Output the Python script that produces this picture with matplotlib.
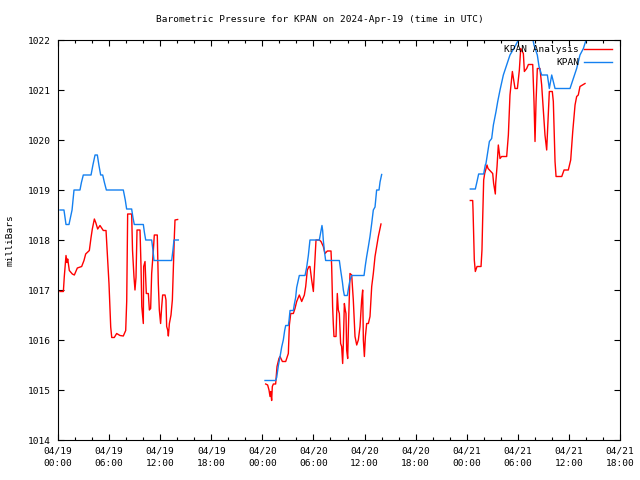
import numpy as np
import pandas as pd
import matplotlib
matplotlib.use('Agg')
import matplotlib.pyplot as plt
import matplotlib.dates as mdates

# hours since 2024-04-19 00:00 UTC, pressure in mb
# KPAN Analysis (red)
ana_h1 = [0.23, 0.63, 0.74, 0.94, 1.06, 1.14, 1.33, 1.68, 1.92, 2.27, 2.78, 3.05, 3.25, 3.68,
          3.88, 4.03, 4.27, 4.43, 4.66, 4.93, 5.32, 5.64, 5.99, 6.19, 6.31, 6.61, 6.89, 7.28,
          7.67, 7.95, 8.07, 8.18, 8.65, 8.75, 8.92, 9.04, 9.16, 9.28, 9.63, 9.75, 9.84, 10.02,
          10.06, 10.22, 10.37, 10.61, 10.73, 10.88, 11.00, 11.20, 11.31, 11.66, 11.78, 11.90,
          12.05, 12.17, 12.29, 12.57, 12.68, 12.76, 12.88, 12.96, 13.08, 13.27, 13.43, 13.55,
          13.67, 13.74, 14.05]
ana_p1 = [1016.97, 1016.97, 1017.27, 1017.69, 1017.55, 1017.62, 1017.39, 1017.32, 1017.30,
          1017.44, 1017.47, 1017.59, 1017.72, 1017.79, 1018.05, 1018.22, 1018.42, 1018.35,
          1018.22, 1018.29, 1018.19, 1018.19, 1017.12, 1016.26, 1016.05, 1016.05, 1016.13,
          1016.09, 1016.08, 1016.19, 1016.78, 1018.52, 1018.52, 1017.80, 1017.27, 1017.00,
          1017.25, 1018.20, 1018.20, 1017.47, 1016.67, 1016.33, 1017.47, 1017.57, 1016.93,
          1016.93, 1016.60, 1016.63, 1017.33, 1017.80, 1018.10, 1018.10, 1017.13, 1016.60,
          1016.33, 1016.65, 1016.90, 1016.90, 1016.80, 1016.27, 1016.20, 1016.08, 1016.33,
          1016.50, 1016.80, 1017.47, 1018.10, 1018.40, 1018.41]

ana_h2 = [24.39, 24.62, 24.78, 24.90, 24.98, 25.09, 25.17, 25.29, 25.56, 25.72, 25.95, 26.07,
          26.35, 26.74, 26.93, 27.05, 27.17, 27.33, 27.64, 27.83, 28.03, 28.34, 28.62, 28.93,
          29.09, 29.28, 29.48, 29.59, 29.79, 29.91, 29.99, 30.11, 30.30, 30.69, 30.89, 31.16,
          31.36, 31.63, 32.06, 32.14, 32.25, 32.33, 32.41, 32.65, 32.80, 32.92, 33.04, 33.19,
          33.31, 33.43, 33.51, 33.63, 33.74, 33.82, 33.90, 34.02, 34.10, 34.21, 34.29, 34.49,
          34.68, 34.88, 35.08, 35.27, 35.47, 35.66, 35.78, 35.86, 35.98, 36.10, 36.25, 36.45,
          36.64, 36.84, 37.03, 37.23, 37.42, 37.62, 37.82, 37.93]
ana_p2 = [1015.12, 1015.10, 1015.00, 1014.87, 1014.97, 1014.79, 1015.07, 1015.12, 1015.12,
          1015.47, 1015.63, 1015.67, 1015.57, 1015.57, 1015.67, 1015.73, 1016.30, 1016.53,
          1016.53, 1016.63, 1016.77, 1016.90, 1016.77, 1016.90, 1017.07, 1017.40, 1017.47,
          1017.47, 1017.20, 1017.07, 1016.97, 1017.40, 1018.00, 1018.00, 1017.97, 1017.87,
          1017.73, 1017.78, 1017.78, 1017.47, 1016.67, 1016.33, 1016.07, 1016.07, 1016.93,
          1016.60, 1016.53, 1015.93, 1015.87, 1015.53, 1015.93, 1016.73, 1016.60, 1016.53,
          1015.80, 1015.63, 1016.20, 1016.87, 1017.33, 1017.30, 1016.80, 1016.07, 1015.90,
          1016.00, 1016.27, 1016.80, 1017.00, 1016.00, 1015.67, 1016.07, 1016.33, 1016.33,
          1016.47, 1017.07, 1017.33, 1017.67, 1017.87, 1018.07, 1018.23, 1018.32]

ana_h3 = [48.42, 48.70, 48.74, 48.89, 49.01, 49.21, 49.68, 49.79, 49.87, 49.99, 50.11, 50.38,
          50.50, 50.77, 51.05, 51.16, 51.28, 51.36, 51.40, 51.56, 51.71, 51.91, 52.10, 52.69,
          52.89, 53.08, 53.36, 53.67, 53.95, 54.18, 54.34, 54.49, 54.65, 54.77, 55.04, 55.24,
          55.75, 55.90, 56.02, 56.14, 56.29, 56.60, 56.80, 57.19, 57.39, 57.55, 57.70, 58.05,
          58.17, 58.37, 58.49, 59.16, 59.43, 59.93, 60.21, 60.45, 60.72, 60.91, 61.10, 61.30,
          61.89]
ana_p3 = [1018.79, 1018.79, 1018.60, 1017.60, 1017.37, 1017.47, 1017.47, 1017.80, 1018.40,
          1019.20, 1019.33, 1019.50, 1019.43, 1019.38, 1019.33, 1019.13, 1019.00, 1018.92,
          1019.13, 1019.47, 1019.90, 1019.63, 1019.67, 1019.67, 1020.10, 1020.90, 1021.37,
          1021.03, 1021.03, 1021.40, 1021.83, 1021.78, 1021.73, 1021.37, 1021.43, 1021.51,
          1021.51, 1020.77, 1019.97, 1020.77, 1021.43, 1021.43, 1021.10, 1020.10, 1019.80,
          1020.40, 1020.97, 1020.97, 1020.77, 1019.57, 1019.27, 1019.27, 1019.40, 1019.40,
          1019.60, 1020.17, 1020.70, 1020.87, 1020.90, 1021.07, 1021.13]

# KPAN observations (blue)
obs_h1 = [0.23, 0.70, 0.94, 1.29, 1.65, 1.88, 2.58, 2.75, 2.97, 3.88, 4.10, 4.35, 4.62, 4.80,
          5.01, 5.25, 5.45, 5.68, 7.67, 7.90, 8.06, 8.65, 8.80, 8.96, 10.02, 10.15, 10.30,
          11.00, 11.15, 11.27, 13.35, 13.50, 13.62, 14.13]
obs_p1 = [1018.60, 1018.60, 1018.31, 1018.31, 1018.60, 1019.00, 1019.00, 1019.15, 1019.30,
          1019.30, 1019.50, 1019.70, 1019.70, 1019.50, 1019.30, 1019.30, 1019.15, 1019.00,
          1019.00, 1018.80, 1018.62, 1018.62, 1018.45, 1018.31, 1018.31, 1018.15, 1018.00,
          1018.00, 1017.80, 1017.59, 1017.59, 1017.80, 1018.00, 1018.00]

obs_h2 = [24.31, 25.56, 25.68, 25.88, 26.07, 26.27, 26.46, 26.62, 26.74, 27.05, 27.13, 27.25,
          27.64, 27.76, 27.91, 28.03, 28.34, 29.01, 29.20, 29.40, 29.59, 30.69, 30.85, 31.00,
          31.08, 31.16, 31.28, 31.43, 33.04, 33.20, 33.40, 33.51, 33.63, 33.98, 34.14, 34.29,
          34.49, 35.94, 36.10, 36.25, 36.45, 36.64, 36.84, 37.03, 37.23, 37.42, 37.70, 37.82,
          38.01]
obs_p2 = [1015.19, 1015.19, 1015.25, 1015.49, 1015.66, 1015.86, 1016.00, 1016.19, 1016.29,
          1016.29, 1016.39, 1016.59, 1016.59, 1016.72, 1016.85, 1017.05, 1017.29, 1017.29,
          1017.45, 1017.69, 1018.00, 1018.00, 1018.15, 1018.29, 1018.19, 1017.99, 1017.79,
          1017.59, 1017.59, 1017.39, 1017.16, 1017.00, 1016.89, 1016.89, 1017.06, 1017.20,
          1017.29, 1017.29, 1017.50, 1017.67, 1017.87, 1018.07, 1018.33, 1018.60, 1018.66,
          1019.00, 1019.00, 1019.16, 1019.31]

obs_h3 = [48.42, 49.01, 49.21, 49.40, 49.99, 50.18, 50.26, 50.66, 50.93, 51.13, 51.44, 51.64,
          51.91, 52.30, 53.08, 53.67, 54.06, 54.26, 55.55, 55.90, 56.29, 56.49, 56.80, 57.47,
          57.70, 57.98, 58.37, 60.13, 60.52, 60.91, 61.30, 61.70, 62.01, 62.28]
obs_p3 = [1019.02, 1019.02, 1019.17, 1019.32, 1019.32, 1019.50, 1019.53, 1019.97, 1020.03,
          1020.30, 1020.57, 1020.77, 1021.00, 1021.30, 1021.70, 1021.87, 1022.00, 1022.20,
          1022.20, 1021.90, 1021.70, 1021.47, 1021.30, 1021.30, 1021.03, 1021.30, 1021.03,
          1021.03, 1021.23, 1021.43, 1021.70, 1021.83, 1022.00, 1022.20]

start = pd.Timestamp('2024-04-19 00:00')


def join(segments):
    # glue the segments together with NaN gaps
    hh, pp = [], []
    for h, p in segments:
        hh += list(h) + [h[-1] + 0.01]
        pp += list(p) + [np.nan]
    return start + pd.to_timedelta(hh, unit='h'), np.array(pp)


ana_t, ana_p = join([(ana_h1, ana_p1), (ana_h2, ana_p2), (ana_h3, ana_p3)])
obs_t, obs_p = join([(obs_h1, obs_p1), (obs_h2, obs_p2), (obs_h3, obs_p3)])

mono = 'DejaVu Sans Mono'
fs = 6.8

fig = plt.figure(figsize=(6.4, 4.8), dpi=100)
ax = fig.add_axes([58 / 640, 40 / 480, 562 / 640, 400 / 480])

ax.plot(ana_t, ana_p, color='#ff0000', lw=1.0, label='KPAN Analysis')
ax.plot(obs_t, obs_p, color='#1480f0', lw=1.0, label='KPAN')

ax.set_xlim(start, start + pd.Timedelta(hours=66))
ax.set_ylim(1014, 1022)
ax.set_yticks(np.arange(1014, 1023, 1))
ax.yaxis.set_major_formatter(matplotlib.ticker.FormatStrFormatter('%d'))

ax.xaxis.set_major_locator(mdates.HourLocator(byhour=[0, 6, 12, 18]))
ax.xaxis.set_minor_locator(mdates.HourLocator(interval=2))
ax.xaxis.set_major_formatter(mdates.DateFormatter('%m/%d\n%H:%M'))

ax.tick_params(which='both', direction='in', top=True, right=True, width=0.8,
               labelsize=fs, colors='black')
ax.tick_params(which='major', length=4, pad=5)
ax.tick_params(which='minor', length=2)
for lbl in ax.get_xticklabels() + ax.get_yticklabels():
    lbl.set_family(mono)
for lbl in ax.get_xticklabels():
    lbl.set_linespacing(1.45)
for s in ax.spines.values():
    s.set_linewidth(0.8)

ax.set_ylabel('milliBars', family=mono, fontsize=fs, labelpad=10)
fig.text(0.5, 1 - 19 / 480, 'Barometric Pressure for KPAN on 2024-Apr-19 (time in UTC)',
         ha='center', va='center', family=mono, fontsize=fs)

leg = ax.legend(loc='upper right', bbox_to_anchor=(0.995, 1.0), frameon=False,
                markerfirst=False, handlelength=3.0, handletextpad=0.5,
                labelspacing=0.4, borderaxespad=0.15, prop={'family': mono, 'size': fs})
for t in leg.get_texts():
    t.set_ha('right')

fig.savefig('out.png', dpi=100)
